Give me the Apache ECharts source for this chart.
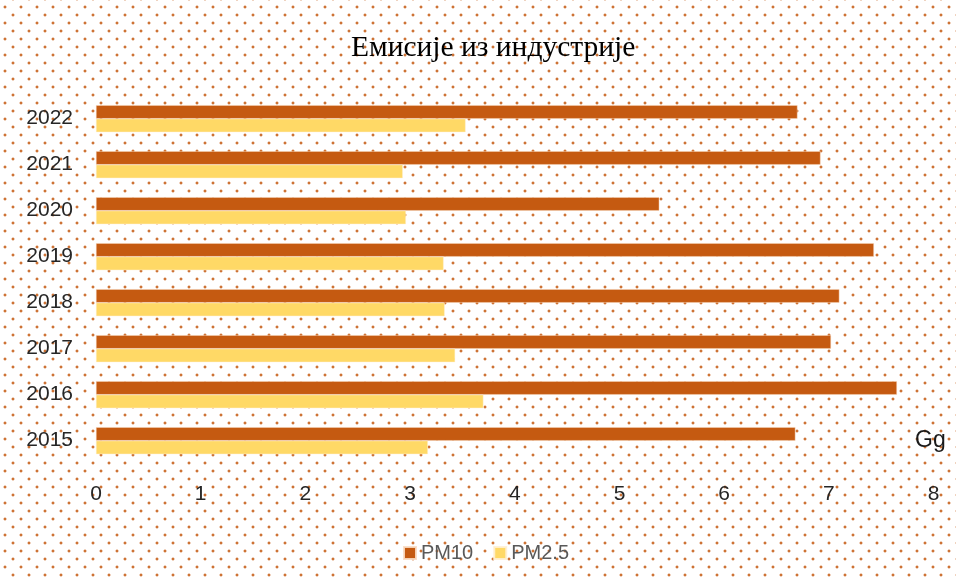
<!DOCTYPE html>
<html>
<head>
<meta charset="utf-8">
<script src="https://cdn.jsdelivr.net/npm/echarts@6/dist/echarts.min.js"></script>
<style>
  html, body { margin: 0; padding: 0; background: #ffffff; }
  #chart {
    width: 956px; height: 581px;
    background-color: #ffffff;
    background-image:
      radial-gradient(circle, rgba(197,90,17,0.85) 1.1px, rgba(197,90,17,0) 1.8px),
      radial-gradient(circle, rgba(197,90,17,0.85) 1.1px, rgba(197,90,17,0) 1.8px);
    background-size: 16px 16px, 16px 16px;
    background-position: -3px -1px, 5px 7px;
  }
</style>
</head>
<body>
<div id="chart"></div>
<script>
const titleText = 'Емисије из индустрије';
const years = ['2015', '2016', '2017', '2018', '2019', '2020', '2021', '2022'];
const pm10 = [6.68, 7.65, 7.02, 7.10, 7.43, 5.38, 6.92, 6.70];
const pm25 = [3.17, 3.70, 3.43, 3.33, 3.32, 2.96, 2.93, 3.53];
const xTicks = [0, 1, 2, 3, 4, 5, 6, 7, 8];
const unitLabel = 'Gg';

const chart = echarts.init(document.getElementById('chart'), null, { renderer: 'canvas' });
chart.setOption({
  backgroundColor: 'transparent',
  animation: false,
  title: {
    text: titleText,
    left: 346,
    top: 28,
    textStyle: { fontFamily: 'Liberation Serif', fontSize: 29.5, fontWeight: 'normal', color: '#000000' }
  },
  legend: {
    data: ['PM10', 'PM2.5'],
    left: 398,
    top: 538,
    icon: 'rect',
    itemWidth: 12,
    itemHeight: 12,
    itemGap: 20,
    textStyle: { fontFamily: 'Liberation Sans', fontSize: 20, color: '#595959' }
  },
  grid: { left: 96, right: 956 - 933.6, top: 95.7, bottom: 581 - 463.7, containLabel: false },
  xAxis: {
    type: 'value',
    min: xTicks[0],
    max: xTicks[xTicks.length - 1],
    interval: 1,
    axisLine: { show: false },
    axisTick: { show: false },
    splitLine: { show: false },
    axisLabel: { margin: 20, fontFamily: 'Liberation Sans', fontSize: 21, color: '#262626' }
  },
  yAxis: {
    type: 'category',
    data: years,
    axisLine: { show: false },
    axisTick: { show: false },
    axisLabel: { margin: 23, fontFamily: 'Liberation Sans', fontSize: 21, color: '#262626' }
  },
  graphic: [{
    type: 'text',
    left: 915,
    top: 429,
    style: { text: unitLabel, fontFamily: 'Liberation Sans', fontSize: 23, fill: '#1a1a1a' }
  }],
  series: [
    {
      name: 'PM10', type: 'bar', data: pm10,
      barWidth: 13.5, barGap: '0%',
      itemStyle: { color: '#c55a11', borderColor: 'rgba(250,220,195,0.9)', borderWidth: 0.5 }
    },
    {
      name: 'PM2.5', type: 'bar', data: pm25,
      barWidth: 13.5, barGap: '0%',
      itemStyle: { color: '#ffd966', borderColor: 'rgba(255,240,210,0.9)', borderWidth: 0.5 }
    }
  ]
});
</script>
</body>
</html>
